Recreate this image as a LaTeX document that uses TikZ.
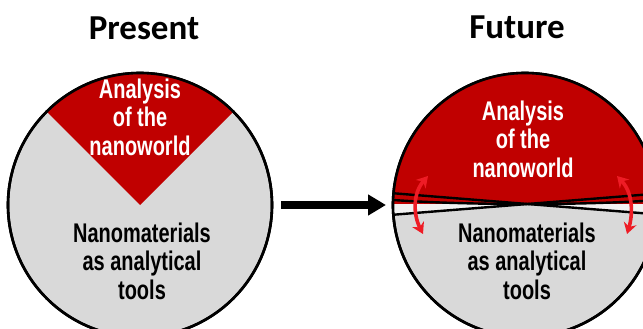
\documentclass[tikz,border=0pt]{standalone}
\usepackage{fontspec}
\setmainfont{Liberation Sans}
\newfontfamily\titlefont{Carlito}
\newfontfamily\labelfont[FakeStretch=0.74]{Liberation Sans}
\usetikzlibrary{arrows.meta}
\definecolor{piered}{HTML}{C00000}
\definecolor{piegray}{HTML}{D9D9D9}
\definecolor{stripwhite}{HTML}{F2F2F2}
\definecolor{swingred}{HTML}{EE1C25}
\tikzset{
  pie/.style={circle, draw=black, line width=2.6pt, fill=piegray,
    minimum size=264pt, inner sep=0pt, outer sep=0pt},
  heading/.style={font=\titlefont\bfseries\fontsize{35}{40}\selectfont, anchor=base},
  label/.style={font=\labelfont\bfseries\fontsize{27}{28.5}\selectfont, align=center},
  onred/.style={label, text=white},
  ongray/.style={label, text=black},
  divider/.style={black, line width=2.4pt},
  swing/.style={swingred, line width=3.6pt,
    {Stealth[length=11pt,width=13pt]}-{Stealth[length=11pt,width=13pt]}},
  progress/.style={black, line width=7.5pt, -{Triangle[length=18pt,width=20pt]}},
}
\begin{document}
\begin{tikzpicture}[x=1pt,y=-1pt]
\useasboundingbox (0,0) rectangle (643,329);
\clip (0,0) rectangle (643,329);

% headings
\node[heading] (present title) at (144,40) {Present};
\node[heading] (future title) at (517,39) {Future};

% present: red sector on a gray disc
\node[pie] (present) at (140,205) {};
\fill[piered] (present.center) -- ++(45:132pt)
  arc[start angle=45, end angle=135, radius=132pt] -- cycle;
\draw[black, line width=2.6pt] (present.center) circle[radius=132pt];

% future: red upper half with a tilting divider
\node[pie] (future) at (525,205) {};
\begin{scope}
  \clip (future.center) circle[radius=132pt];
  \fill[piered] (380,0) rectangle (670,204);
  \fill[stripwhite] (380,204) -- (380,215.8) -- (527,204) -- (670,215.4) -- (670,204) -- cycle;
  \draw[divider] (380,192.2) -- (670,215.4);
  \draw[divider] (380,215.8) -- (670,192.6);
  \draw[divider] (380,199) .. controls (460,205.7) and (595,205.7) .. (670,199);
\end{scope}
\draw[black, line width=2.6pt] (future.center) circle[radius=132pt];

% labels
\node[onred] (present top) at (140,117) {Analysis\\of the\\nanoworld};
\node[ongray] (present bottom) at (142,261) {Nanomaterials\\as analytical\\tools};
\node[onred] (future top) at (523,139) {Analysis\\of the\\nanoworld};
\node[ongray] (future bottom) at (527,261) {Nanomaterials\\as analytical\\tools};

% swinging arrows
\coordinate (lt) at (428,176);
\coordinate (lb) at (423,234);
\coordinate (rt) at (617,176);
\coordinate (rb) at (627,234);
\draw[swing] (lt) .. controls (413,193) and (413,214) .. (lb);
\draw[swing] (rt) .. controls (633,193) and (633,214) .. (rb);

% present -> future
\draw[progress] ([xshift=9pt]present.east) -- ([xshift=-7pt]future.west);
\end{tikzpicture}
\end{document}
